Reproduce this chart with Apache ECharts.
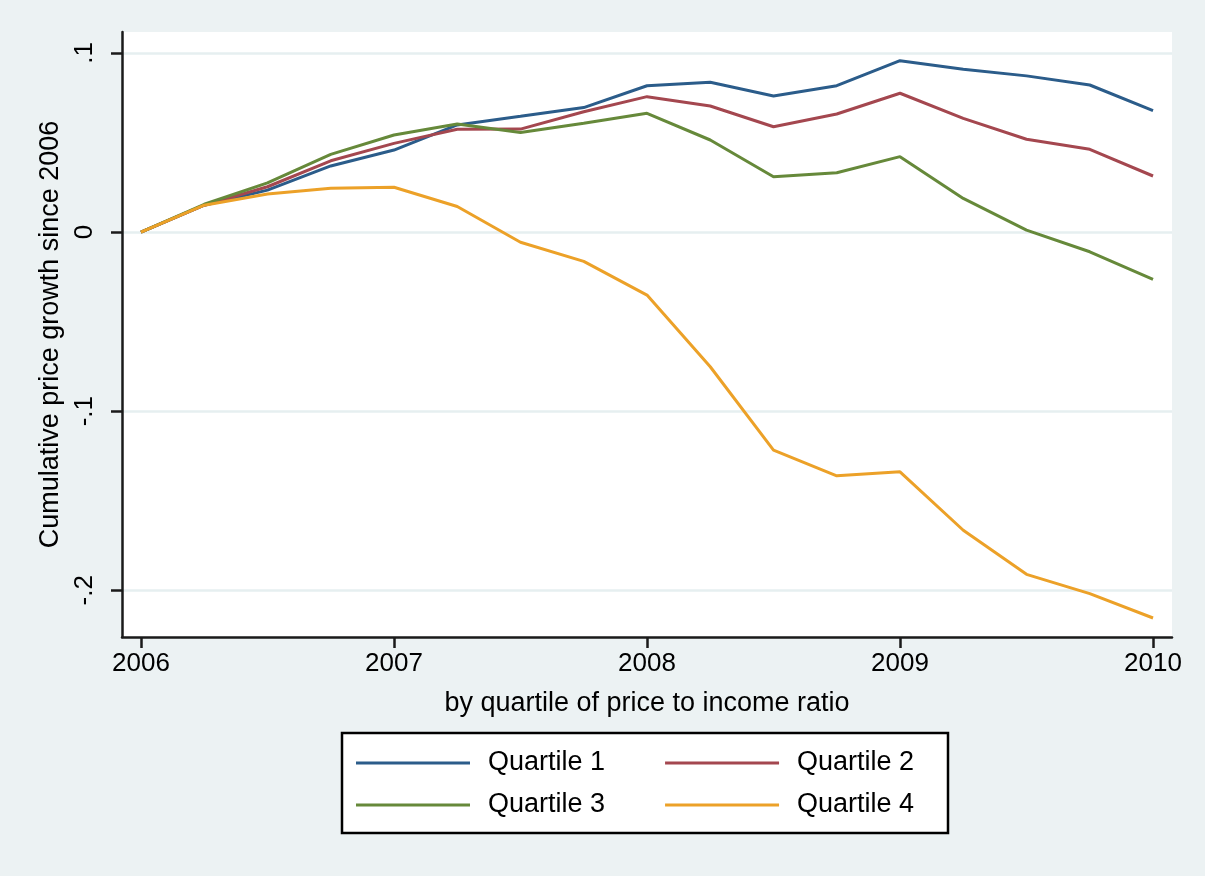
<!DOCTYPE html>
<html>
<head>
<meta charset="utf-8">
<script src="https://cdn.jsdelivr.net/npm/echarts@6/dist/echarts.min.js"></script>
<style>
html,body{margin:0;padding:0;background:#ecf2f3;}
#chart{width:1205px;height:876px;}
</style>
</head>
<body>
<div id="chart"></div>
<script>
const quarters = [2006, 2006.25, 2006.5, 2006.75, 2007, 2007.25, 2007.5, 2007.75, 2008, 2008.25, 2008.5, 2008.75, 2009, 2009.25, 2009.5, 2009.75, 2010];
const seriesNames = ['Quartile 1', 'Quartile 2', 'Quartile 3', 'Quartile 4'];
const q1 = [0, 0.015, 0.0234, 0.0369, 0.0458, 0.0598, 0.0646, 0.0695, 0.0817, 0.0836, 0.076, 0.0817, 0.0957, 0.0909, 0.0872, 0.0821, 0.0678];
const q2 = [0, 0.015, 0.0253, 0.0398, 0.0495, 0.0574, 0.0575, 0.0672, 0.0756, 0.0704, 0.0588, 0.0659, 0.0775, 0.0635, 0.0518, 0.0462, 0.0313];
const q3 = [0, 0.0155, 0.0275, 0.0434, 0.0542, 0.0603, 0.0556, 0.0607, 0.0663, 0.0514, 0.0309, 0.0331, 0.0421, 0.0188, 0.0011, -0.011, -0.0264];
const q4 = [0, 0.015, 0.0212, 0.0244, 0.025, 0.0143, -0.0057, -0.0164, -0.0352, -0.0752, -0.1218, -0.1361, -0.1339, -0.1665, -0.1911, -0.2019, -0.2155];
const xTicks = [2006, 2007, 2008, 2009, 2010];
const yTicks = [-0.2, -0.1, 0, 0.1];
const yTickLabels = ['-.2', '-.1', '0', '.1'];
const xTitle = 'by quartile of price to income ratio';
const yTitle = 'Cumulative price growth since 2006';

const colors = ['#2b5c8a', '#a4474f', '#66893a', '#eca128'];
const FONT = 'Liberation Sans, Arial, sans-serif';
const allValues = [q1, q2, q3, q4];

const chart = echarts.init(document.getElementById('chart'), null, {renderer: 'canvas'});

const series = allValues.map((vals, k) => ({
  name: seriesNames[k],
  type: 'line',
  data: quarters.map((q, i) => [q, vals[i]]),
  showSymbol: false,
  symbol: 'none',
  lineStyle: {width: 3, color: colors[k]},
  itemStyle: {color: colors[k]},
  z: 3 + k,
  animation: false
}));

const legendCommon = {
  icon: 'rect',
  itemWidth: 114,
  itemHeight: 3,
  itemGap: 60,
  orient: 'horizontal',
  selectedMode: false,
  textStyle: {fontSize: 27, color: '#000', fontFamily: FONT, padding: [0, 0, 0, 13], lineHeight: 30},
  padding: 0
};

chart.setOption({
  animation: false,
  backgroundColor: '#ecf2f3',
  color: colors,
  grid: {
    left: 122, right: 33, top: 32, bottom: 239,
    show: true, backgroundColor: '#ffffff', borderWidth: 0,
    containLabel: false
  },
  graphic: [{
    type: 'rect',
    shape: {x: 342, y: 733, width: 606, height: 100},
    style: {fill: '#ffffff', stroke: '#000000', lineWidth: 2.5},
    z: 0
  }],
  legend: [
    Object.assign({}, legendCommon, {left: 356, top: 748, data: [seriesNames[0], seriesNames[1]]}),
    Object.assign({}, legendCommon, {left: 356, top: 790, data: [seriesNames[2], seriesNames[3]]})
  ],
  xAxis: {
    type: 'value',
    min: 2005.925,
    max: 2010.075,
    name: xTitle,
    nameLocation: 'middle',
    nameGap: 53,
    nameTextStyle: {fontSize: 27, color: '#000', fontFamily: FONT},
    axisLine: {show: true, onZero: false, lineStyle: {color: '#1a1a1a', width: 2.5}},
    axisTick: {show: true, length: 11, lineStyle: {color: '#1a1a1a', width: 2.5}, customValues: xTicks},
    axisLabel: {show: true, margin: 14, fontSize: 26, color: '#000', fontFamily: FONT, customValues: xTicks,
      formatter: v => String(Math.round(v))},
    splitLine: {show: false}
  },
  yAxis: {
    type: 'value',
    min: -0.2261,
    max: 0.1117,
    name: yTitle,
    nameLocation: 'middle',
    nameRotate: 90,
    nameGap: 53,
    nameTextStyle: {fontSize: 27, color: '#000', fontFamily: FONT},
    axisLine: {show: true, onZero: false, lineStyle: {color: '#1a1a1a', width: 2.5}},
    axisTick: {show: true, length: 11, lineStyle: {color: '#1a1a1a', width: 2.5}, customValues: yTicks},
    axisLabel: {show: true, margin: 24, rotate: 90, fontSize: 26, color: '#000', fontFamily: FONT, customValues: yTicks,
      formatter: v => {
        for (let i = 0; i < yTicks.length; i++) {
          if (Math.abs(v - yTicks[i]) < 1e-6) return yTickLabels[i];
        }
        return '';
      }},
    splitLine: {show: true, lineStyle: {color: '#e6eff0', width: 2.5}}
  },
  series: series
});
</script>
</body>
</html>
